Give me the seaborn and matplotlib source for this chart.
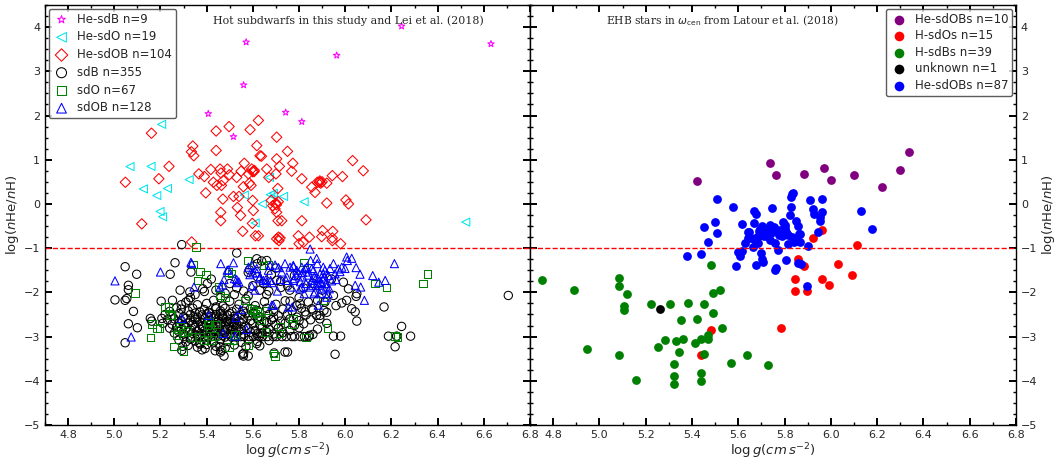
import matplotlib
matplotlib.use("Agg")
import matplotlib.pyplot as plt
import seaborn as sns
from matplotlib.ticker import MultipleLocator

# ---------------- Left panel data ----------------
hesdb_logg = [5.407, 5.571, 5.560, 5.516, 5.742, 5.812, 5.963, 6.244, 6.631]
hesdb_he = [2.04, 3.66, 2.69, 1.52, 2.07, 1.86, 3.36, 4.02, 3.62]

hesdo_logg = [5.068, 5.159, 5.205, 5.126, 5.184, 5.230, 5.198, 5.209, 5.324, 5.563,
              5.610, 5.641, 5.672, 5.675, 5.689, 5.733, 5.822, 6.522, 5.690]
hesdo_he = [0.845, 0.85, 1.80, 0.34, 0.19, 0.35, -0.17, -0.29, 0.55, 0.20,
            -0.43, 0.0, 0.60, 0.21, 0.24, 0.17, 0.05, -0.41, 0.18]

hesdob_logg = [5.048, 5.161, 5.193, 5.237, 5.119, 5.340, 5.334, 5.344, 5.366, 5.390,
               5.396, 5.418, 5.441, 5.441, 5.429, 5.444, 5.458, 5.462, 5.464, 5.470,
               5.497, 5.490, 5.498, 5.472, 5.461, 5.461, 5.516, 5.540, 5.533, 5.547,
               5.549, 5.559, 5.563, 5.588, 5.581, 5.585, 5.592, 5.595, 5.599, 5.605,
               5.617, 5.624, 5.631, 5.637, 5.599, 5.602, 5.598, 5.556, 5.611, 5.660,
               5.669, 5.703, 5.703, 5.700, 5.708, 5.715, 5.750, 5.773, 5.768, 5.680,
               5.686, 5.696, 5.703, 5.709, 5.725, 5.812, 5.812, 5.855, 5.869, 5.879,
               5.888, 5.894, 5.920, 5.944, 5.988, 6.032, 6.078, 6.003, 6.014, 6.090,
               5.920, 5.797, 5.845, 5.902, 5.946, 5.898, 5.944, 5.711, 5.703, 5.718,
               5.624, 5.335, 5.713, 5.800, 5.944, 5.980, 5.700, 5.702, 5.710, 5.890,
               5.900, 5.606, 5.818, 5.530]
hesdob_he = [0.49, 1.60, 0.57, 0.85, -0.45, 1.31, 1.18, 1.09, 0.68, 0.62,
             0.25, 0.78, 1.65, 1.21, 0.49, 0.42, 0.79, 0.70, 0.42, 0.11,
             1.75, 0.79, 0.66, 0.53, -0.19, -0.38, 0.17, 0.17, -0.08, -0.26,
             0.74, 0.39, 0.92, 1.68, 0.68, 0.47, 0.42, 0.79, 0.73, 0.73,
             1.32, 1.89, 1.09, 1.08, 0.08, -0.15, -0.44, -0.62, -0.72, 0.79,
             0.60, 1.51, 1.02, 0.68, 0.35, 0.85, 1.19, 0.92, 0.74, 0.08,
             -0.04, -0.11, -0.19, -0.38, -0.38, 0.57, -0.38, 0.38, 0.26, 0.49,
             0.49, 0.47, 0.47, 0.64, 0.62, 0.98, 0.75, 0.09, 0.00, -0.36,
             0.02, -0.72, -0.75, -0.60, -0.62, -0.74, -0.77, -0.75, -0.79, -0.77,
             -0.72, -0.86, -0.83, -0.90, -0.83, -0.90, 0.02, -0.02, 0.05, 0.52,
             0.50, 0.76, -0.87, 0.60]

sdb_logg = [5.003, 5.047, 5.047, 5.054, 5.061, 5.061, 5.083, 5.061, 5.047, 5.097,
            5.100, 5.156, 5.162, 5.203, 5.206, 5.242, 5.252, 5.263, 5.285, 5.292,
            5.292, 5.296, 5.321, 5.332, 5.327, 5.383, 5.403, 5.530, 5.585, 5.617,
            5.638, 5.646, 5.669, 5.703, 5.721, 5.761, 5.804, 5.826, 5.855, 5.876,
            5.908, 5.912, 5.949, 5.949, 5.980, 5.956, 5.985, 5.992, 6.006, 6.014,
            6.028, 6.043, 6.050, 6.050, 6.047, 6.168, 6.187, 6.216, 6.223, 6.244,
            6.283, 6.706, 5.891, 5.845, 5.739, 5.750, 5.692, 5.631, 5.617, 5.559,
            5.556, 5.475, 5.465, 5.458, 5.437, 5.393, 5.429, 5.371,
            # dense core
            5.31, 5.36, 5.40, 5.43, 5.47, 5.50, 5.54, 5.57, 5.61, 5.65, 5.70, 5.74, 5.79, 5.84, 5.46, 5.52, 5.58,
            5.29, 5.32, 5.34, 5.37, 5.39, 5.41, 5.44, 5.46, 5.48, 5.51, 5.53, 5.56, 5.59, 5.62, 5.66, 5.69, 5.73, 5.77, 5.81, 5.86, 5.24, 5.27,
            5.25, 5.28, 5.30, 5.33, 5.35, 5.36, 5.38, 5.40, 5.42, 5.44, 5.46, 5.47, 5.49, 5.50, 5.52, 5.55, 5.58, 5.60, 5.63, 5.67, 5.71, 5.75, 5.79, 5.83, 5.22,
            5.23, 5.26, 5.29, 5.31, 5.33, 5.35, 5.37, 5.39, 5.41, 5.43, 5.45, 5.47, 5.48, 5.50, 5.52, 5.54, 5.56, 5.59, 5.62, 5.65, 5.68, 5.72, 5.76, 5.80, 5.85,
            5.21, 5.25, 5.28, 5.30, 5.32, 5.34, 5.36, 5.38, 5.40, 5.42, 5.44, 5.46, 5.48, 5.50, 5.51, 5.53, 5.55, 5.57, 5.60, 5.63, 5.66, 5.70, 5.74, 5.78, 5.82,
            5.24, 5.27, 5.29, 5.31, 5.33, 5.35, 5.37, 5.39, 5.41, 5.43, 5.45, 5.47, 5.49, 5.51, 5.53, 5.55, 5.58, 5.61, 5.64, 5.67, 5.71, 5.76, 5.80, 5.88,
            5.26, 5.28, 5.30, 5.32, 5.34, 5.36, 5.38, 5.40, 5.42, 5.44, 5.46, 5.48, 5.50, 5.52, 5.54, 5.56, 5.59, 5.62, 5.66, 5.69, 5.73,
            5.30, 5.33, 5.36, 5.39, 5.42, 5.45, 5.48, 5.505, 5.523, 5.548, 5.561, 5.584, 5.602, 5.627, 5.641, 5.663, 5.688, 5.702, 5.726, 5.744, 5.768, 5.781, 5.806, 5.823, 5.842,
            5.28, 5.31, 5.33, 5.35, 5.37, 5.40, 5.43, 5.46, 5.49, 5.52, 5.55, 5.58, 5.62, 5.67,
            5.32, 5.36, 5.40, 5.44, 5.48, 5.52, 5.57, 5.63, 5.38, 5.46, 5.56, 5.58,
            5.35, 5.39, 5.44, 5.48, 5.53, 5.56, 5.60, 5.63, 5.66, 5.68, 5.72, 5.75, 5.78, 5.82, 5.86, 5.90, 5.94,
            5.58, 5.62, 5.70, 5.42, 5.50, 5.33, 5.29, 5.62, 5.66, 5.76, 5.80, 5.88, 5.92, 5.96, 5.86, 5.89, 5.92,
            5.41, 5.45, 5.49, 5.38, 5.43, 5.47, 5.51, 5.44, 5.40, 5.52, 5.35, 5.47, 5.57, 5.64, 5.69]
sdb_he = [-2.17, -1.42, -2.18, -2.14, -1.84, -1.94, -2.43, -2.71, -3.14, -1.59,
          -2.80, -2.59, -2.65, -2.20, -2.59, -1.59, -2.18, -1.33, -1.95, -0.92,
          -3.31, -3.22, -2.18, -1.54, -1.99, -1.92, -1.80, -1.11, -1.49, -1.24,
          -1.29, -1.80, -1.97, -1.73, -1.89, -2.20, -2.26, -2.44, -2.37, -2.52,
          -2.41, -2.22, -2.07, -2.99, -2.99, -3.40, -2.24, -1.77, -2.18, -1.92,
          -2.37, -2.44, -2.65, -2.03, -2.09, -2.33, -2.99, -3.23, -2.99, -2.77,
          -2.99, -2.07, -2.52, -2.97, -3.35, -3.35, -3.37, -2.93, -3.16, -3.44,
          -3.40, -3.44, -3.31, -3.23, -3.32, -3.27, -2.99, -3.17,
          # dense core
          -2.22, -2.28, -2.25, -2.18, -2.31, -2.20, -2.27, -2.15, -2.30, -2.21, -2.27, -2.19, -2.30, -2.22, -2.12, -2.05, -2.08,
          -2.38, -2.42, -2.36, -2.44, -2.39, -2.45, -2.37, -2.42, -2.36, -2.44, -2.38, -2.43, -2.37, -2.41, -2.36, -2.44, -2.38, -2.42, -2.36, -2.40, -2.43, -2.35,
          -2.52, -2.48, -2.55, -2.50, -2.47, -2.56, -2.51, -2.49, -2.55, -2.50, -2.47, -2.56, -2.51, -2.48, -2.54, -2.50, -2.53, -2.48, -2.55, -2.50, -2.53, -2.49, -2.56, -2.51, -2.50,
          -2.62, -2.60, -2.64, -2.59, -2.63, -2.61, -2.66, -2.60, -2.63, -2.58, -2.65, -2.60, -2.67, -2.62, -2.59, -2.65, -2.61, -2.64, -2.60, -2.66, -2.62, -2.65, -2.60, -2.64, -2.62,
          -2.70, -2.72, -2.69, -2.74, -2.70, -2.73, -2.68, -2.75, -2.71, -2.69, -2.74, -2.70, -2.76, -2.71, -2.68, -2.74, -2.70, -2.76, -2.71, -2.74, -2.69, -2.73, -2.70, -2.75, -2.71,
          -2.81, -2.79, -2.84, -2.80, -2.85, -2.79, -2.83, -2.87, -2.80, -2.84, -2.79, -2.86, -2.81, -2.85, -2.79, -2.84, -2.81, -2.86, -2.80, -2.84, -2.81, -2.86, -2.80, -2.83,
          -2.92, -2.89, -2.94, -2.90, -2.93, -2.88, -2.95, -2.91, -2.94, -2.89, -2.93, -2.90, -2.95, -2.91, -2.88, -2.94, -2.90, -2.93, -2.89, -2.94, -2.91,
          -3.00, -3.02, -2.98, -3.03, -3.00, -2.99, -3.01, -3.00, -3.00, -3.00, -3.00, -3.00, -3.00, -3.00, -3.00, -3.00, -3.00, -3.00, -3.00, -3.00, -3.00, -3.00, -3.00, -3.00, -3.00,
          -3.08, -3.12, -3.06, -3.10, -3.14, -3.08, -3.12, -3.07, -3.11, -3.09, -3.13, -3.08, -3.11, -3.09,
          -3.20, -3.24, -3.18, -3.22, -3.26, -3.19, -3.23, -3.21, -3.30, -3.35, -3.38, -3.44,
          -2.05, -1.98, -1.95, -2.02, -1.90, -1.97, -1.85, -1.95, -2.05, -1.60, -1.75, -1.85, -1.62, -1.90, -1.80, -1.95, -1.70,
          -1.55, -1.65, -1.45, -1.70, -1.80, -2.12, -2.28, -1.35, -1.28, -1.95, -2.12, -2.18, -2.45, -2.30, -2.95, -2.60, -2.70,
          -2.47, -2.58, -2.66, -2.77, -2.88, -2.53, -2.77, -2.33, -2.97, -2.69, -2.57, -2.98, -2.47, -2.92, -2.57]

sdo_logg = [5.090, 5.156, 5.162, 5.184, 5.220, 5.234, 5.242, 5.259, 5.270, 5.277,
            5.296, 5.317, 5.335, 5.340, 5.353, 5.360, 5.371, 5.386, 5.396, 5.403,
            5.411, 5.414, 5.421, 5.432, 5.441, 5.451, 5.458, 5.480, 5.494, 5.498,
            5.523, 5.516, 5.566, 5.581, 5.595, 5.602, 5.610, 5.617, 5.624, 5.634,
            5.646, 5.655, 5.660, 5.689, 5.696, 5.715, 5.770, 5.775, 5.822, 5.830,
            5.905, 5.923, 6.129, 6.179, 6.216, 6.226, 6.338, 6.356, 5.195, 5.248,
            5.300, 5.285, 5.371, 5.577, 5.667, 5.508, 5.720]
sdo_he = [-2.01, -3.02, -2.71, -2.82, -2.33, -2.32, -2.52, -3.22, -2.97, -2.84,
          -2.91, -2.87, -3.01, -1.37, -0.98, -1.73, -3.01, -3.08, -1.60, -2.74,
          -2.67, -2.82, -3.08, -2.99, -2.73, -1.88, -2.07, -2.12, -1.54, -3.23,
          -2.97, -3.08, -2.18, -3.20, -2.37, -2.41, -2.48, -2.44, -2.56, -2.63,
          -1.39, -2.89, -2.41, -3.38, -3.44, -2.93, -2.71, -2.59, -1.32, -3.02,
          -2.18, -2.80, -1.80, -1.89, -2.99, -3.01, -1.80, -1.59, -2.81, -2.51,
          -3.32, -2.79, -1.53, -1.28, -1.38, -1.57, -2.77]

sdob_logg = [5.003, 5.073, 5.200, 5.292, 5.332, 5.335, 5.345, 5.408, 5.461, 5.458,
             5.475, 5.494, 5.516, 5.520, 5.527, 5.523, 5.472, 5.547, 5.573, 5.581,
             5.595, 5.600, 5.617, 5.628, 5.646, 5.660, 5.667, 5.674, 5.677, 5.682,
             5.706, 5.711, 5.718, 5.725, 5.739, 5.744, 5.754, 5.761, 5.768, 5.775,
             5.778, 5.790, 5.797, 5.804, 5.812, 5.816, 5.822, 5.830, 5.833, 5.840,
             5.848, 5.850, 5.855, 5.859, 5.862, 5.869, 5.874, 5.879, 5.884, 5.891,
             5.894, 5.898, 5.905, 5.908, 5.912, 5.917, 5.920, 5.927, 5.931, 5.949,
             5.956, 5.960, 5.970, 5.985, 6.006, 6.009, 6.047, 6.043, 6.064, 6.067,
             6.083, 6.119, 6.145, 6.173, 6.213,
             5.489, 5.530, 5.539, 5.469, 5.609, 5.595, 5.617, 5.631, 5.657, 5.683,
             5.696, 5.747, 5.776, 5.776, 5.811, 5.826, 5.847, 5.855, 5.864, 5.876,
             5.883, 5.890, 5.898, 5.905, 5.919, 5.926, 5.934, 5.883, 5.688, 5.771,
             5.977, 5.999, 6.028, 5.587, 5.532, 5.786, 5.806, 5.836, 5.866, 5.879,
             5.905, 5.941, 5.815]
sdob_he = [-1.74, -3.01, -1.54, -2.59, -1.32, -1.35, -1.88, -2.52, -1.35, -1.88,
           -1.71, -1.49, -1.33, -1.69, -2.57, -2.99, -2.93, -2.39, -2.84, -1.43,
           -1.86, -1.56, -1.56, -1.69, -1.73, -1.77, -1.50, -1.39, -1.73, -2.29,
           -1.97, -1.44, -1.71, -1.54, -1.35, -1.73, -2.33, -1.43, -1.88, -1.39,
           -1.69, -1.50, -1.56, -1.92, -1.43, -1.65, -2.03, -1.80, -1.43, -1.54,
           -1.02, -1.28, -1.73, -1.84, -1.50, -1.99, -1.67, -1.35, -1.84, -1.58,
           -1.77, -1.92, -1.43, -1.65, -1.50, -1.80, -2.11, -1.62, -1.92, -1.35,
           -1.58, -1.71, -1.47, -1.43, -1.20, -1.28, -1.44, -1.84, -1.59, -1.88,
           -2.18, -1.62, -1.77, -1.73, -1.35,
           -1.50, -1.71, -1.76, -1.83, -1.95, -1.38, -1.46, -1.65, -1.71, -1.78,
           -1.38, -1.65, -1.73, -1.42, -1.88, -1.46, -1.88, -1.46, -2.03, -1.23,
           -1.69, -2.03, -1.80, -1.58, -1.88, -2.03, -1.46, -2.29, -2.29, -2.33,
           -1.53, -1.46, -1.23, -1.60, -1.78, -1.62, -1.76, -1.61, -1.66, -1.79,
           -1.70, -1.74, -1.55]

# ---------------- Right panel data (Latour et al. 2018) ----------------
purple_logg = [5.421, 5.737, 5.765, 5.884, 5.971, 6.000, 6.101, 6.219, 6.297, 6.337]
purple_he = [0.53, 0.92, 0.66, 0.68, 0.81, 0.54, 0.66, 0.39, 0.77, 1.17]

red_logg = [5.963, 5.924, 6.111, 5.856, 5.885, 6.032, 6.090, 5.845, 5.963, 5.992,
            5.845, 5.895, 5.784, 5.480, 5.441]
red_he = [-0.58, -0.77, -0.92, -1.24, -1.41, -1.35, -1.60, -1.69, -1.69, -1.84,
          -1.97, -1.97, -2.80, -2.84, -3.41]

green_logg = [4.752, 4.889, 4.947, 5.085, 5.085, 5.085, 5.117, 5.105, 5.105, 5.156,
              5.225, 5.254, 5.283, 5.303, 5.323, 5.323, 5.323, 5.333, 5.342, 5.352,
              5.363, 5.381, 5.411, 5.421, 5.441, 5.441, 5.441, 5.450, 5.451, 5.469,
              5.470, 5.480, 5.489, 5.489, 5.520, 5.529, 5.568, 5.639, 5.727]
green_he = [-1.73, -1.94, -3.27, -1.67, -1.86, -3.41, -2.03, -2.31, -2.41, -3.98,
            -2.27, -3.23, -3.08, -2.27, -3.62, -3.89, -4.08, -3.10, -3.35, -2.62,
            -3.05, -2.23, -3.14, -2.60, -3.05, -3.83, -4.00, -2.27, -3.40, -2.97,
            -3.05, -1.39, -2.47, -2.01, -1.94, -2.81, -3.60, -3.42, -3.64]

black_logg = [5.261]
black_he = [-2.38]

blue_logg = [5.510, 5.578, 5.745, 5.666, 5.675, 5.830, 5.836, 5.826, 5.912, 5.963,
             5.826, 5.924, 5.927, 5.963, 5.953, 5.953, 6.130, 6.179, 5.450, 5.499,
             5.510, 5.618, 5.666, 5.646, 5.693, 5.703, 5.737, 5.755, 5.761, 5.709,
             5.726, 5.794, 5.801, 5.811, 5.787, 5.823, 5.848, 5.856, 5.862, 5.943,
             5.760, 5.808, 5.775,
             5.469, 5.629, 5.600, 5.608, 5.615, 5.588, 5.640, 5.672, 5.686, 5.665,
             5.680, 5.703, 5.726, 5.757, 5.770, 5.698, 5.701, 5.708, 5.676, 5.758,
             5.765, 5.806, 5.787, 5.816, 5.830, 5.842, 5.866, 5.866, 5.816, 5.902,
             5.856, 5.873, 5.895, 5.379, 5.441, 5.655, 5.690, 5.735, 5.780, 5.720,
             5.640, 5.800, 5.845, 5.742]
blue_he = [0.11, -0.08, -0.09, -0.17, -0.23, 0.22, 0.25, 0.15, 0.08, 0.11,
           -0.08, -0.11, -0.23, -0.19, -0.30, -0.38, -0.17, -0.57, -0.53, -0.41,
           -0.66, -0.45, -0.44, -0.63, -0.57, -0.51, -0.47, -0.53, -0.62, -0.72,
           -0.72, -0.40, -0.47, -0.68, -0.72, -0.26, -0.39, -0.49, -0.68, -0.64,
           -0.56, -0.64, -0.70,
           -0.86, -0.88, -1.09, -1.17, -1.07, -1.41, -0.64, -0.81, -0.89, -0.98,
           -0.75, -0.71, -0.71, -0.89, -1.05, -1.11, -1.24, -1.32, -1.38, -1.49,
           -1.44, -1.26, -0.71, -0.71, -0.75, -0.86, -0.86, -0.69, -0.90, -0.94,
           -1.33, -1.35, -1.86, -1.17, -1.14, -0.78, -0.62, -0.82, -0.58, -0.60,
           -0.76, -0.55, -0.83, -0.66]

# ---------------- Figure ----------------
sns.set_style("ticks")
plt.rcParams["font.family"] = ["DejaVu Sans"]
plt.rcParams["mathtext.fontset"] = "dejavusans"

fig = plt.figure(figsize=(10.55, 4.61), dpi=100)
ax1 = fig.add_axes([45 / 1055, 1 - 425 / 461, 485 / 1055, 420 / 461])
ax2 = fig.add_axes([530 / 1055, 1 - 425 / 461, 486 / 1055, 420 / 461])

open_kw = dict(facecolors="none", linewidths=0.75)

sns.scatterplot(x=hesdb_logg, y=hesdb_he, marker="*", s=24, edgecolor="#ff00ff",
                label="He-sdB n=9", ax=ax1, zorder=3, **open_kw)
sns.scatterplot(x=hesdo_logg, y=hesdo_he, marker="<", s=34, edgecolor="#00e5ee",
                label="He-sdO n=19", ax=ax1, zorder=3, **open_kw)
sns.scatterplot(x=hesdob_logg, y=hesdob_he, marker="D", s=28, edgecolor="red",
                label="He-sdOB n=104", ax=ax1, zorder=3, **open_kw)
sns.scatterplot(x=sdb_logg, y=sdb_he, marker="o", s=36, edgecolor="black",
                label="sdB n=355", ax=ax1, zorder=2, **open_kw)
sns.scatterplot(x=sdo_logg, y=sdo_he, marker="s", s=30, edgecolor="green",
                label="sdO n=67", ax=ax1, zorder=3, **open_kw)
sns.scatterplot(x=sdob_logg, y=sdob_he, marker="^", s=34, edgecolor="blue",
                label="sdOB n=128", ax=ax1, zorder=3, **open_kw)

fill_kw = dict(s=40, linewidth=0)
sns.scatterplot(x=purple_logg, y=purple_he, color="purple", label="He-sdOBs n=10", ax=ax2, **fill_kw)
sns.scatterplot(x=red_logg, y=red_he, color="red", label="H-sdOs n=15", ax=ax2, **fill_kw)
sns.scatterplot(x=green_logg, y=green_he, color="green", label="H-sdBs n=39", ax=ax2, **fill_kw)
sns.scatterplot(x=black_logg, y=black_he, color="black", label="unknown n=1", ax=ax2, **fill_kw)
sns.scatterplot(x=blue_logg, y=blue_he, color="blue", label="He-sdOBs n=87", ax=ax2, **fill_kw)

xlabel = r"$\log g(cm\,s^{-2})$"
ylabel = r"log($n$He/$n$H)"
for ax in (ax1, ax2):
    ax.axhline(-1, color="red", ls="--", lw=1.0, zorder=1)
    ax.set_xlim(4.7, 6.8)
    ax.set_ylim(-5, 4.5)
    ax.xaxis.set_major_locator(MultipleLocator(0.2))
    ax.xaxis.set_minor_locator(MultipleLocator(0.1))
    ax.yaxis.set_major_locator(MultipleLocator(1))
    ax.yaxis.set_minor_locator(MultipleLocator(0.25))
    ax.tick_params(which="both", direction="in", top=True, right=True, left=True,
                   bottom=True, labelsize=8, width=1.0, color="black", pad=3.5)
    ax.tick_params(which="major", length=5, width=1.4)
    ax.tick_params(which="minor", length=2.5)
    ax.set_xlabel(xlabel, fontsize=9.5, labelpad=1)
    for sp in ax.spines.values():
        sp.set_linewidth(1.0)
        sp.set_color("black")

ax1.set_ylabel(ylabel, fontsize=9.5, labelpad=2)
ax2.yaxis.set_label_position("right")
ax2.tick_params(labelleft=False, labelright=True)
ax2.set_ylabel(ylabel, fontsize=9.5, labelpad=2)

ax1.text(0.626, 0.962, "Hot subdwarfs in this study and Lei et al. (2018)",
         transform=ax1.transAxes, ha="center", va="center", fontsize=7.9,
         family="DejaVu Serif")
ax2.text(0.397, 0.962, r"EHB stars in $\omega_{\rm cen}$ from Latour et al. (2018)",
         transform=ax2.transAxes, ha="center", va="center", fontsize=7.7,
         family="DejaVu Serif")

leg1 = ax1.legend(loc="upper left", fontsize=8.5, borderaxespad=0.3, handletextpad=0.6,
                  labelspacing=0.4, borderpad=0.35, frameon=True, markerscale=1.2,
                  handlelength=1.5)
leg1.get_frame().set_edgecolor("#333333")
leg1.get_frame().set_linewidth(1.0)
leg2 = ax2.legend(loc="upper right", fontsize=8.5, borderaxespad=0.3, handletextpad=0.6,
                  labelspacing=0.3, borderpad=0.35, frameon=True, markerscale=1.1,
                  handlelength=1.5)
leg2.get_frame().set_edgecolor("#333333")
leg2.get_frame().set_linewidth(1.0)

fig.savefig("out.png", dpi=100)
